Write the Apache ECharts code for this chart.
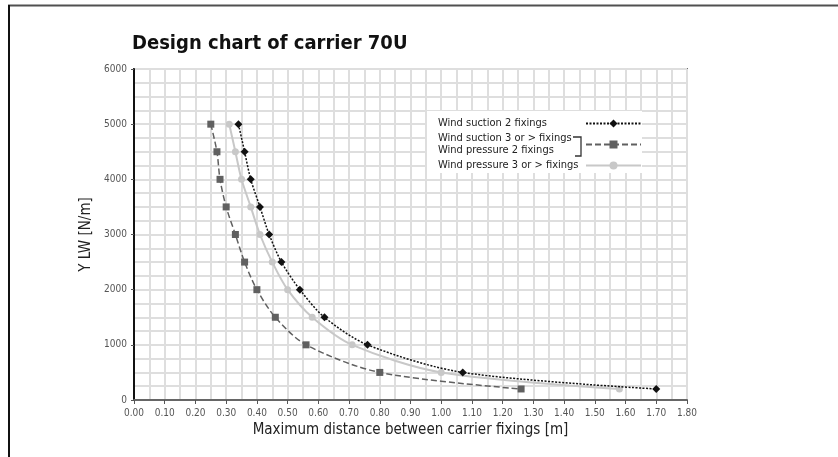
<!DOCTYPE html>
<html>
<head>
<meta charset="utf-8">
<script src="https://cdn.jsdelivr.net/npm/echarts@6/dist/echarts.min.js"></script>
<style>
	html, body { margin: 0; padding: 0; background: #fff; }
	#chart { width: 838px; height: 457px; }
</style>
</head>
<body>
<div id="chart"></div>
<script>
	// load values (N/m) and max distances (m)
	let loads = [5000, 4500, 4000, 3500, 3000, 2500, 2000, 1500, 1000, 500, 200]
	let suction2 = [0.34, 0.36, 0.38, 0.41, 0.44, 0.48, 0.54, 0.62, 0.76, 1.07, 1.70]
	let pressure2 = [0.25, 0.27, 0.28, 0.30, 0.33, 0.36, 0.40, 0.46, 0.56, 0.80, 1.26]
	let pressure3 = [0.31, 0.33, 0.35, 0.38, 0.41, 0.45, 0.50, 0.58, 0.71, 1.00, 1.58]
	let seriesNames = ['Wind suction 2 fixings', 'Wind suction 3 or > fixings\nWind pressure 2 fixings', 'Wind pressure 3 or > fixings']

	let font = '"Liberation Sans Narrow", "DejaVu Sans Condensed", "Liberation Sans", sans-serif'

	function pairs(xs) {
		let out = []
		for (let i = 0; i < xs.length; i++) {
			out.push([xs[i], loads[i]])
		}
		return out
	}

	let chart = echarts.init(document.getElementById('chart'))

	let option = {
		backgroundColor: '#fff',
		animation: false,
		title: {
			text: 'Design chart of carrier 70U',
			left: 127,
			top: 29,
			textStyle: {
				fontFamily: font,
				fontSize: 20,
				fontWeight: 'bold',
				color: '#111'
			}
		},
		grid: {
			left: 134,
			top: 69,
			right: 151,
			bottom: 57,
			show: true,
			borderColor: '#707070',
			borderWidth: 2
		},
		legend: {
			orient: 'vertical',
			left: 427,
			top: 111,
			padding: [7, 0, 2, 11],
			backgroundColor: '#fff',
			align: 'right',
			itemWidth: 55,
			itemHeight: 10,
			itemGap: 4,
			selectedMode: false,
			data: seriesNames,
			formatter: function(name) {
				return name.split('\n').map(s => '{a|' + s + '}').join('\n')
			},
			textStyle: {
				rich: {
					a: {
						width: 143,
						align: 'left',
						lineHeight: 12,
						fontSize: 11,
						fontFamily: font,
						color: '#222'
					}
				}
			}
		},
		xAxis: {
			type: 'value',
			min: 0,
			max: 1.8,
			interval: 0.1,
			name: 'Maximum distance between carrier fixings [m]',
			nameLocation: 'middle',
			nameGap: 23,
			nameTextStyle: {
				fontFamily: font,
				fontSize: 15,
				color: '#222'
			},
			axisLine: { lineStyle: { color: '#666', width: 2 } },
			axisTick: { show: true, length: 4, lineStyle: { color: '#555' } },
			axisLabel: {
				fontFamily: font,
				fontSize: 10,
				color: '#555',
				margin: 8,
				formatter: v => v.toFixed(2)
			},
			splitLine: { lineStyle: { color: '#dedede', width: 2 } },
			minorTick: { show: false, splitNumber: 2 },
			minorSplitLine: { show: true, lineStyle: { color: '#dedede', width: 2 } }
		},
		yAxis: {
			type: 'value',
			min: 0,
			max: 6000,
			interval: 1000,
			name: 'Y LW [N/m]',
			nameLocation: 'middle',
			nameGap: 29,
			nameTextStyle: {
				fontFamily: font,
				fontSize: 15,
				color: '#222'
			},
			axisLine: { show: true, lineStyle: { color: '#111', width: 2 } },
			axisTick: { show: true, length: 3, lineStyle: { color: '#555' } },
			axisLabel: {
				fontFamily: font,
				fontSize: 10,
				color: '#555',
				margin: 7,
				formatter: v => String(v)
			},
			splitLine: { lineStyle: { color: '#dedede', width: 2 } },
			minorTick: { show: false, splitNumber: 4 },
			minorSplitLine: { show: true, lineStyle: { color: '#dedede', width: 2 } }
		},
		series: [{
				name: seriesNames[0],
				type: 'line',
				smooth: 0.3,
				data: pairs(suction2),
				symbol: 'diamond',
				symbolSize: 8,
				itemStyle: { color: '#111' },
				lineStyle: { color: '#111', width: 1.5, type: [2, 1.5] },
				z: 4
			},
			{
				name: seriesNames[1],
				type: 'line',
				smooth: 0.3,
				data: pairs(pressure2),
				symbol: 'rect',
				symbolSize: 7,
				itemStyle: { color: '#606060' },
				lineStyle: { color: '#606060', width: 1.5, type: [6, 3] },
				z: 3
			},
			{
				name: seriesNames[2],
				type: 'line',
				smooth: 0.3,
				data: pairs(pressure3),
				symbol: 'circle',
				symbolSize: 7,
				itemStyle: { color: '#c8c8c8' },
				lineStyle: { color: '#c8c8c8', width: 2 },
				z: 2
			}
		],
		graphic: [{
				// outer frame: top and left edges
				type: 'line',
				shape: { x1: 8, y1: 5.5, x2: 838, y2: 5.5 },
				style: { stroke: '#505050', lineWidth: 2 }
			},
			{
				type: 'line',
				shape: { x1: 9, y1: 5, x2: 9, y2: 457 },
				style: { stroke: '#111', lineWidth: 2 }
			},
			{
				// bracket joining the two legend labels that share one symbol
				type: 'polyline',
				shape: { points: [[573, 137], [581, 137], [581, 156], [575, 156]] },
				style: { stroke: '#333', lineWidth: 1.3, fill: null },
				z: 100
			}
		]
	}

	chart.setOption(option)
</script>
</body>
</html>
